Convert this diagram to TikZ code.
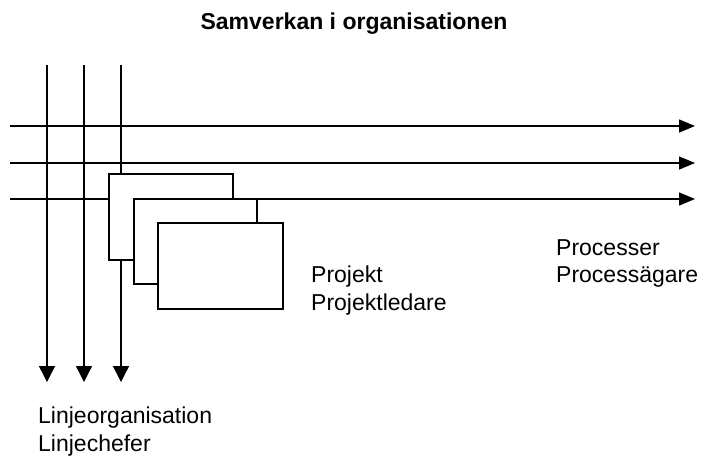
\documentclass[tikz,border=0pt]{standalone}
\usepackage{fontspec}
\setmainfont{Liberation Sans}
\usetikzlibrary{arrows.meta}
\begin{document}
\begin{tikzpicture}[x=1pt,y=-1pt,
  ln/.style={line width=1.4pt},
  vline/.style={ln,-{Triangle[length=16pt,width=16pt]}},
  hline/.style={ln,-{Triangle[length=16pt,width=13pt]}},
  proj/.style={ln,fill=white},
  lbl/.style={anchor=base west,inner sep=0pt,font=\fontsize{23}{27}\selectfont},
  ttl/.style={anchor=base,inner sep=0pt,font=\fontsize{23}{27}\selectfont\bfseries}]
\useasboundingbox (0,0) rectangle (704,456);
% vertical lines (line organisation)
\foreach \x/\n in {47/a,84/b,121/c}{
  \coordinate (v\n s) at (\x,65);
  \coordinate (v\n e) at (\x,382);
  \draw[vline] (v\n s) -- (v\n e);
}
% horizontal lines (processes)
\foreach \y/\n in {126/a,163/b,199/c}{
  \coordinate (h\n s) at (10,\y);
  \coordinate (h\n e) at (695,\y);
  \draw[hline] (h\n s) -- (h\n e);
}
% project boxes
\draw[proj] (109,174) rectangle (233,260);
\draw[proj] (134,199) rectangle (257,284);
\draw[proj] (158,223) rectangle (283,309);
% texts
\node[ttl] (title) at (354,29) {Samverkan i organisationen};
\node[lbl] (proj1) at (311,282) {Projekt};
\node[lbl] (proj2) at (311,310) {Projektledare};
\node[lbl] (proc1) at (556,255) {Processer};
\node[lbl] (proc2) at (556,282) {Processägare};
\node[lbl] (lin1) at (38,423) {Linjeorganisation};
\node[lbl] (lin2) at (38,451) {Linjechefer};
\end{tikzpicture}
\end{document}
